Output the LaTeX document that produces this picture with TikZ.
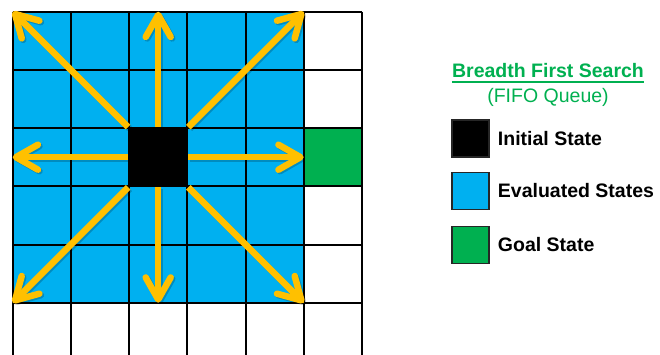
\documentclass[tikz,border=0pt]{standalone}
\usepackage{fontspec}
\setmainfont{Liberation Sans}
\usetikzlibrary{arrows.meta,positioning}
\definecolor{evalblue}{HTML}{00B0F0}
\definecolor{goalgreen}{HTML}{00B050}
\definecolor{arrowgold}{HTML}{FFC000}
\begin{document}
\begin{tikzpicture}[x=1pt,y=-1pt,
  legbox/.style={draw=black!85,line width=1.5pt,minimum size=37pt,inner sep=0pt},
  leglabel/.style={font=\fontsize{19.5}{22}\selectfont\bfseries,inner sep=0pt},
  ray/.style={arrowgold,line width=6.5pt,-{Straight Barb[length=22pt,width=25pt,round]}}]
\clip (0,0) rectangle (660,355);
% grid of states
\begin{scope}[xshift=12.7pt,yshift=-11.7pt,x=58.2pt,y=-58.2pt]
\fill[evalblue] (0,0) rectangle (5,5);
\fill[goalgreen] (5,2) rectangle (6,3);
\foreach \i in {0,...,6} \draw[line width=2pt] (\i,0) -- (\i,6.5);
\foreach \j in {0,...,6} \draw[line width=2pt] (0,\j) -- (6,\j);
\node[fill=black,draw=black,line width=2pt,minimum size=58.2pt,inner sep=0pt] (init) at (2.5,2.5) {};
\foreach \n/\tx/\ty in {nw/0/0, n/2.5/0, ne/5/0, w/0/2.5, e/5/2.5, sw/0/5, s/2.5/5, se/5/5}
  \coordinate (\n) at (\tx,\ty);
\foreach \n in {nw,n,ne,w,e,sw,s,se}{
  \draw[ray,black,opacity=0.2,transform canvas={xshift=1.5pt,yshift=-1.5pt}] (init) -- (\n);
  \draw[ray] (init) -- (\n);
}
\end{scope}
% legend
\node[font=\fontsize{19.5}{22}\selectfont\bfseries,text=goalgreen,inner sep=0pt,anchor=base] (title) at (548,78) {Breadth First Search};
\draw[goalgreen,line width=1.5pt] ([yshift=-4pt]title.base west) -- ([yshift=-4pt]title.base east);
\node[font=\fontsize{19.5}{22}\selectfont,text=goalgreen,inner sep=0pt,anchor=base] (queue) at (548,103) {(FIFO Queue)};
\node[legbox,fill=black] (initbox) at (470.5,138.5) {};
\node[legbox,fill=evalblue] (evalbox) at (470.5,191) {};
\node[legbox,fill=goalgreen] (goalbox) at (470.5,245) {};
\node[leglabel,right=8pt of initbox] (initlab) {Initial State};
\node[leglabel,right=8pt of evalbox] (evallab) {Evaluated States};
\node[leglabel,right=8pt of goalbox] (goallab) {Goal State};
\end{tikzpicture}
\end{document}
